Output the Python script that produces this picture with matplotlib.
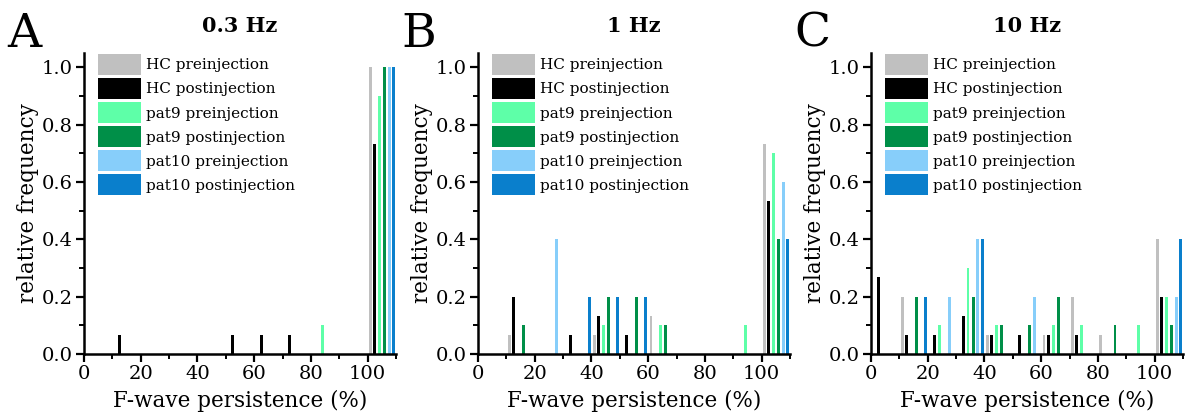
import matplotlib
matplotlib.use("Agg")
import matplotlib.pyplot as plt
from matplotlib.ticker import MultipleLocator, FormatStrFormatter

plt.rcParams['font.family'] = ['DejaVu Serif']

bins = [0, 10, 20, 30, 40, 50, 60, 70, 80, 90, 100]
labels = ['HC preinjection', 'HC postinjection', 'pat9 preinjection',
          'pat9 postinjection', 'pat10 preinjection', 'pat10 postinjection']

# 0.3 Hz
a_hc_pre = [0, 0, 0, 0, 0, 0, 0, 0, 0, 0, 1.0]
a_hc_post = [0, 0.067, 0, 0, 0, 0.067, 0.067, 0.067, 0, 0, 0.733]
a_p9_pre = [0, 0, 0, 0, 0, 0, 0, 0, 0.1, 0, 0.9]
a_p9_post = [0, 0, 0, 0, 0, 0, 0, 0, 0, 0, 1.0]
a_p10_pre = [0, 0, 0, 0, 0, 0, 0, 0, 0, 0, 1.0]
a_p10_post = [0, 0, 0, 0, 0, 0, 0, 0, 0, 0, 1.0]

# 1 Hz
b_hc_pre = [0, 0.067, 0, 0, 0.067, 0, 0.133, 0, 0, 0, 0.733]
b_hc_post = [0, 0.2, 0, 0.067, 0.133, 0.067, 0, 0, 0, 0, 0.533]
b_p9_pre = [0, 0, 0, 0, 0.1, 0, 0.1, 0, 0, 0.1, 0.7]
b_p9_post = [0, 0.1, 0, 0, 0.2, 0.2, 0.1, 0, 0, 0, 0.4]
b_p10_pre = [0, 0, 0.4, 0, 0, 0, 0, 0, 0, 0, 0.6]
b_p10_post = [0, 0, 0, 0.2, 0.2, 0.2, 0, 0, 0, 0, 0.4]

# 10 Hz
c_hc_pre = [0, 0.2, 0, 0, 0.067, 0, 0.067, 0.2, 0.067, 0, 0.4]
c_hc_post = [0.267, 0.067, 0.067, 0.133, 0.067, 0.067, 0.067, 0.067, 0, 0, 0.2]
c_p9_pre = [0, 0, 0.1, 0.3, 0.1, 0, 0.1, 0.1, 0, 0.1, 0.2]
c_p9_post = [0, 0.2, 0, 0.2, 0.1, 0.1, 0.2, 0, 0.1, 0, 0.1]
c_p10_pre = [0, 0, 0.2, 0.4, 0, 0.2, 0, 0, 0, 0, 0.2]
c_p10_post = [0, 0.2, 0, 0.4, 0, 0, 0, 0, 0, 0, 0.4]

colors = ['#c0c0c0', '#000000', '#5effa8', '#008f48', '#87cefa', '#0a7fcc']
offsets = [1.0, 2.5, 4.2, 6.0, 7.6, 9.2]

panels = [
    ('A', '0.3 Hz', [a_hc_pre, a_hc_post, a_p9_pre, a_p9_post, a_p10_pre, a_p10_post]),
    ('B', '1 Hz', [b_hc_pre, b_hc_post, b_p9_pre, b_p9_post, b_p10_pre, b_p10_post]),
    ('C', '10 Hz', [c_hc_pre, c_hc_post, c_p9_pre, c_p9_post, c_p10_pre, c_p10_post]),
]

fig = plt.figure(figsize=(11.87, 4.18), dpi=100)
lefts = [84, 478, 871]

for left, (letter, title, series) in zip(lefts, panels):
    ax = fig.add_axes([left / 1187, 1 - 354 / 418, 312 / 1187, (354 - 53) / 418])
    for vals, off, col, lab in zip(series, offsets, colors, labels):
        ax.bar([b + off for b in bins], vals, width=1.0, color=col,
               linewidth=0, label=lab)
    ax.set_xlim(0, 110)
    ax.set_ylim(0, 1.05)
    ax.xaxis.set_major_locator(MultipleLocator(20))
    ax.xaxis.set_minor_locator(MultipleLocator(10))
    ax.yaxis.set_major_locator(MultipleLocator(0.2))
    ax.yaxis.set_minor_locator(MultipleLocator(0.1))
    ax.yaxis.set_major_formatter(FormatStrFormatter('%.1f'))
    ax.spines['top'].set_visible(False)
    ax.spines['right'].set_visible(False)
    ax.spines['left'].set_linewidth(1.8)
    ax.spines['bottom'].set_linewidth(1.8)
    ax.tick_params(which='major', length=6, width=1.6, labelsize=14, pad=2)
    ax.tick_params(which='minor', length=3.5, width=1.4)
    ax.set_xlabel('F-wave persistence (%)', fontsize=15.5, labelpad=5)
    ax.set_ylabel('relative frequency', fontsize=15.5, labelpad=2)
    ax.set_title(title, fontsize=15, fontweight='bold', pad=15)
    ax.text(-0.245, 1.02, letter, transform=ax.transAxes, fontsize=34,
            va='baseline', ha='left')
    ax.legend(loc='upper left', bbox_to_anchor=(0.045, 0.997), frameon=False,
              fontsize=11, handlelength=2.8, handleheight=1.74,
              labelspacing=0.2, handletextpad=0.33, borderpad=0,
              borderaxespad=0)

fig.savefig('out.png', dpi=100)
